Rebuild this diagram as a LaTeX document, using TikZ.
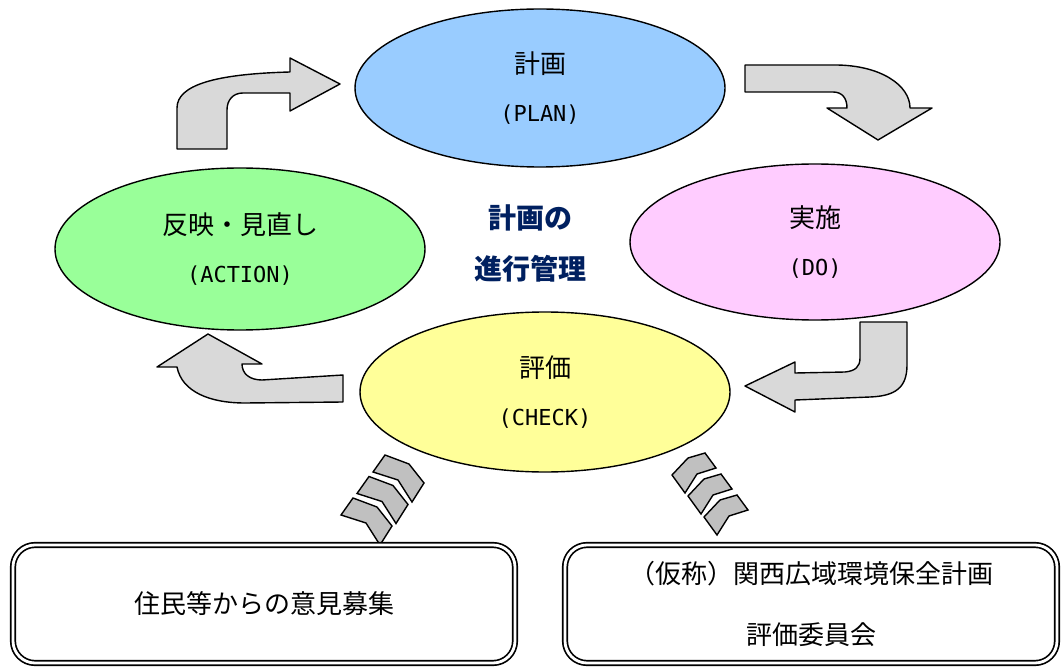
\documentclass[tikz,border=0pt]{standalone}
\usepackage{fontspec}
\setmainfont{Noto Sans CJK JP}
\newfontfamily\latinmono{DejaVu Sans Mono}
\usetikzlibrary{shapes.geometric}

\definecolor{planblue}{RGB}{153,204,255}
\definecolor{dopink}{RGB}{255,204,255}
\definecolor{actgreen}{RGB}{153,255,153}
\definecolor{checkyellow}{RGB}{255,255,153}
\definecolor{arrowgray}{RGB}{217,217,217}
\definecolor{chevgray}{RGB}{192,192,192}
\definecolor{titlenavy}{RGB}{0,32,96}

\newcommand{\phasetext}[2]{#1\\{\latinmono\fontsize{22pt}{48pt}\selectfont (#2)}}

\tikzset{
	phase/.style={ellipse, draw, line width=1.4pt, minimum width=370pt, minimum height=158pt,
		inner sep=0pt, align=center, font=\fontsize{26pt}{48pt}\selectfont},
	blockarrow/.style={draw, line width=1.4pt, fill=arrowgray, line join=round},
	chevron/.style={draw, line width=1.4pt, fill=chevgray, line join=miter},
	inputbox/.style={draw, line width=1.7pt, double, double distance=2.8pt, rounded corners=22pt,
		minimum height=118pt, align=center, font=\fontsize{26pt}{61pt}\selectfont}
}

\begin{document}
\begin{tikzpicture}[x=1pt, y=-1pt]
		\useasboundingbox (0,0) rectangle (1062,668);
		\node[phase, fill=planblue] (plan) at (540,88) {\phasetext{計画}{PLAN}};
		\node[phase, fill=dopink, minimum height=156pt] (do) at (815,242) {\phasetext{実施}{DO}};
		\node[phase, fill=checkyellow, minimum height=160pt] (check) at (545,392) {\phasetext{評価}{CHECK}};
		\node[phase, fill=actgreen, minimum height=162pt] (action) at (240,249) {\phasetext{反映・見直し}{ACTION}};
		\node[align=center, text=titlenavy, font=\fontsize{28pt}{51pt}\selectfont\bfseries] (title) at (530,243) {計画の\\進行管理};

		\draw[blockarrow] (177,149) -- (177,108) .. controls (177,85) and (215,74) .. (290,72) -- (290,58) -- (340,84) -- (290,111) -- (290,93) -- (243,93) .. controls (233,93) and (227,100) .. (227,110) -- (227,149) -- cycle;
		\draw[blockarrow] (745,65) -- (835,65) .. controls (880,65) and (910,85) .. (910,108) -- (932,108) -- (878,140) -- (827,108) -- (847,108) .. controls (847,98) and (842,92) .. (833,92) -- (745,92) -- cycle;
		\draw[blockarrow] (860,322) -- (907,322) -- (907,365) .. controls (907,388) and (895,396) .. (870,397) -- (795,400) -- (795,412) -- (745,386) -- (795,362) -- (795,373) -- (845,372) .. controls (855,371) and (860,367) .. (860,358) -- cycle;
		\draw[blockarrow] (343,375) -- (262,380) .. controls (250,380) and (242,374) .. (242,364) -- (262,364) -- (208,334) -- (157,367) -- (177,367) .. controls (182,392) and (210,403) .. (245,403) -- (343,402) -- cycle;

		\foreach \k in {0,1,2}{
			\draw[chevron, shift={(-16*\k,21.5*\k)}] (373,472) -- (385,455) -- (409,464) -- (424,483) -- (412,502) -- (398,480) -- cycle;
			\draw[chevron, shift={(16*\k,21*\k)}] (672,475) -- (688,458) -- (705,453) -- (716,468) -- (697,474) -- (685,493) -- cycle;
		}

		\node[inputbox, minimum width=502pt] (opinions) at (264,604) {住民等からの意見募集};
		\node[inputbox, minimum width=492pt] (committee) at (811,604) {（仮称）関西広域環境保全計画\\評価委員会};
	\end{tikzpicture}
\end{document}
